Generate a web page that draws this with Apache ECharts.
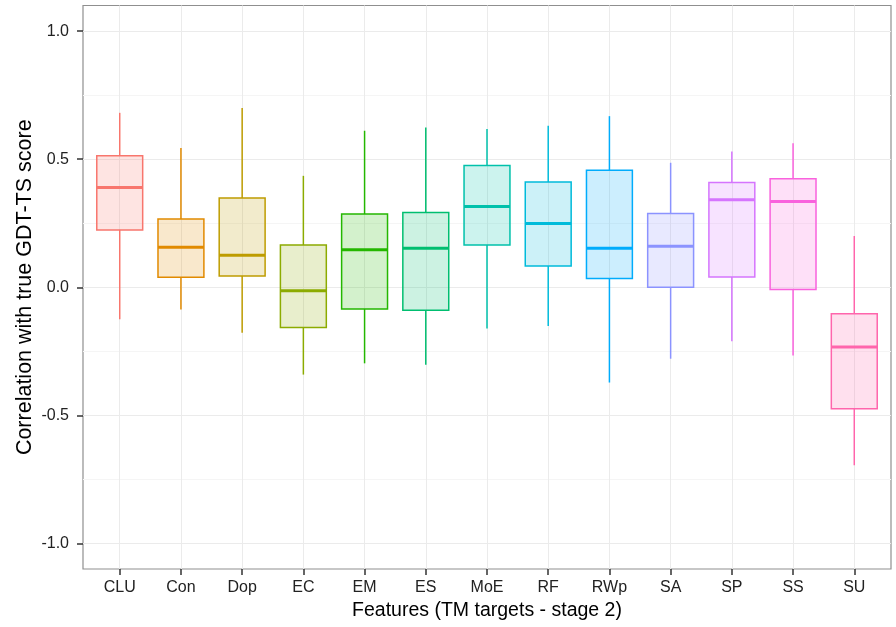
<!DOCTYPE html>
<html><head><meta charset="utf-8">
<script src="https://cdn.jsdelivr.net/npm/echarts@6/dist/echarts.min.js"></script>
<style>html,body{margin:0;padding:0;background:#fff}#c{width:896px;height:627px}</style>
</head><body><div id="c"></div>
<script>
const categories = ['CLU','Con','Dop','EC','EM','ES','MoE','RF','RWp','SA','SP','SS','SU'];
const whiskerLow  = [-0.125, -0.087, -0.178, -0.341, -0.297, -0.303, -0.161, -0.151, -0.372, -0.279, -0.211, -0.266, -0.695];
const q1          = [ 0.224,  0.039,  0.044, -0.157, -0.085, -0.090,  0.165,  0.083,  0.034,  0.000,  0.040, -0.009, -0.474];
const median      = [ 0.389,  0.156,  0.125, -0.014,  0.146,  0.152,  0.315,  0.249,  0.152,  0.160,  0.342,  0.335, -0.233];
const q3          = [ 0.513,  0.266,  0.348,  0.165,  0.286,  0.292,  0.475,  0.411,  0.457,  0.288,  0.409,  0.424, -0.103];
const whiskerHigh = [ 0.681,  0.544,  0.700,  0.435,  0.611,  0.624,  0.618,  0.631,  0.668,  0.486,  0.530,  0.562,  0.200];
const yTicks = [-1.0, -0.5, 0.0, 0.5, 1.0];
const yMinorTicks = [-0.75, -0.25, 0.25, 0.75];

const colors = ['#F8766D','#E18A00','#BE9C00','#8CAB00','#24B700','#00BE70','#00C1AB','#00BBDA','#00ACFC','#8B93FF','#D575FE','#F962DD','#FF65AC'];
function rgba(hex, a) {
  const n = parseInt(hex.slice(1), 16);
  return 'rgba(' + ((n >> 16) & 255) + ',' + ((n >> 8) & 255) + ',' + (n & 255) + ',' + a + ')';
}
const catIdx = categories.map((_, i) => i);
const rows = categories.map((_, i) => [i, whiskerLow[i], q1[i], median[i], q3[i], whiskerHigh[i]]);
const FONT = '"Liberation Sans", Arial, Helvetica, sans-serif';

const chart = echarts.init(document.getElementById('c'), null, {renderer: 'canvas'});
chart.setOption({
  animation: false,
  backgroundColor: '#ffffff',
  textStyle: {fontFamily: FONT},
  grid: {left: 83, right: 5, top: 5.5, bottom: 58, show: true, borderColor: '#8f8f8f', borderWidth: 1.2, backgroundColor: '#ffffff'},
  xAxis: {
    type: 'value', min: -0.6, max: 12.6, position: 'bottom',
    axisLine: {show: false, onZero: false},
    axisTick: {show: true, inside: false, customValues: catIdx, length: 6, lineStyle: {color: '#333', width: 1.5}},
    axisLabel: {customValues: catIdx, formatter: v => categories[Math.round(v)], fontSize: 16, color: '#222', margin: 11, fontFamily: FONT},
    splitLine: {show: true, lineStyle: {color: '#ebebeb', width: 1}},
    name: 'Features (TM targets - stage 2)', nameLocation: 'middle', nameGap: 32, nameMoveOverlap: false,
    nameTextStyle: {fontSize: 19.5, color: '#000', fontFamily: FONT}
  },
  yAxis: [{
    type: 'value', min: -1.1, max: 1.1, position: 'left',
    axisLine: {show: false, onZero: false},
    axisTick: {show: true, inside: false, customValues: yTicks, length: 6, lineStyle: {color: '#333', width: 1.5}},
    axisLabel: {customValues: yTicks, formatter: v => v.toFixed(1), fontSize: 16, color: '#222', margin: 14, fontFamily: FONT},
    splitLine: {show: true, lineStyle: {color: '#ebebeb', width: 1}},
    name: 'Correlation with true GDT-TS score', nameLocation: 'middle', nameGap: 47, nameMoveOverlap: false,
    nameTextStyle: {fontSize: 21.5, color: '#000', fontFamily: FONT}
  }, {
    type: 'value', min: -1.1, max: 1.1, position: 'left',
    axisLine: {show: false, onZero: false},
    axisTick: {show: false, customValues: yMinorTicks},
    axisLabel: {show: false, customValues: yMinorTicks},
    splitLine: {show: true, lineStyle: {color: '#f5f5f5', width: 1}}
  }],
  series: [{
    type: 'custom',
    data: rows,
    encode: {x: 0, y: [1, 2, 3, 4, 5]},
    renderItem: function (params, api) {
      const i = api.value(0);
      const lo = api.coord([i, api.value(1)]);
      const b1 = api.coord([i, api.value(2)]);
      const md = api.coord([i, api.value(3)]);
      const b3 = api.coord([i, api.value(4)]);
      const hi = api.coord([i, api.value(5)]);
      const w = api.size([0.75, 0])[0];
      const c = colors[i];
      return {type: 'group', children: [
        {type: 'line', shape: {x1: lo[0], y1: lo[1], x2: b1[0], y2: b1[1]}, style: {stroke: c, lineWidth: 1.5}},
        {type: 'line', shape: {x1: b3[0], y1: b3[1], x2: hi[0], y2: hi[1]}, style: {stroke: c, lineWidth: 1.5}},
        {type: 'rect', shape: {x: b1[0] - w / 2, y: b3[1], width: w, height: b1[1] - b3[1]}, style: {fill: rgba(c, 0.2), stroke: c, lineWidth: 1.5}},
        {type: 'line', shape: {x1: md[0] - w / 2, y1: md[1], x2: md[0] + w / 2, y2: md[1]}, style: {stroke: c, lineWidth: 3}}
      ]};
    }
  }]
});
</script></body></html>
